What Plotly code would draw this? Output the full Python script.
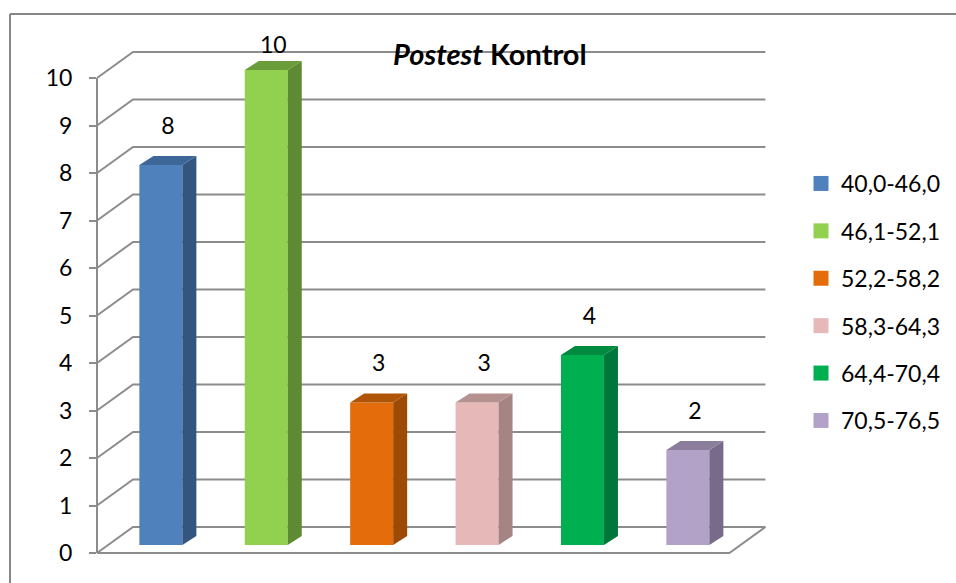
import plotly.graph_objects as go

# ---- data ----
categories = ["40,0-46,0", "46,1-52,1", "52,2-58,2", "58,3-64,3", "64,4-70,4", "70,5-76,5"]
counts = [8, 10, 3, 3, 4, 2]
y_ticks = list(range(0, 11))
title_text = "<b><i>Postest</i> Kontrol</b>"

# ---- colours: front / side / top face of each column ----
front_colors = ["#4F81BD", "#92D050", "#E46C0A", "#E6B9B8", "#00B050", "#B3A2C7"]
side_colors = ["#34557F", "#5E8A33", "#9C4A06", "#A68483", "#00773A", "#776A8A"]
top_colors = ["#3D6699", "#6A9C3A", "#B05508", "#B59190", "#008A40", "#8B7E9D"]
grid_color = "#8C8C8C"
frame_color = "#868686"
font_family = "Lato, 'Open Sans', sans-serif"

# ---- oblique projection settings ----
W, H = 956, 583
CAT_PX = 105.4          # pixels per category step
UNIT_PX = 47.5          # pixels per value unit
X_ORIGIN = 149.7        # pixel x of category 0 on the front plane
Y_ORIGIN = 553          # pixel y of value 0 on the front plane
WALL_DX = 36 / CAT_PX   # depth shift of the back wall (category units)
WALL_DY = 26 / UNIT_PX  # depth shift of the back wall (value units)
BAR_Z = 0.31            # relative depth of the column front faces
BAR_W = 0.408           # column width (category units)
BAR_DX = 14 / CAT_PX    # column depth (category units)
BAR_DY = 9 / UNIT_PX    # column depth (value units)
LABEL_GAP = 28 / UNIT_PX
LABEL_MAX = (Y_ORIGIN - 47) / UNIT_PX

x_range = [-X_ORIGIN / CAT_PX, (W - X_ORIGIN) / CAT_PX]
y_range = [(Y_ORIGIN - H) / UNIT_PX, Y_ORIGIN / UNIT_PX]
n = len(categories)
x_left, x_right = -0.5, n - 0.5

fig = go.Figure()

# ---- walls and floor as shapes below the columns ----
shapes = []
for t in y_ticks:
    path = (f"M {x_left},{t} L {x_left + WALL_DX},{t + WALL_DY} "
            f"L {x_right + WALL_DX},{t + WALL_DY}")
    shapes.append(dict(type="path", path=path, xref="x", yref="y", layer="below",
                       line=dict(color=grid_color, width=2)))
floor = (f"M {x_left},0 L {x_right},0 L {x_right + WALL_DX},{WALL_DY}")
shapes.append(dict(type="path", path=floor, xref="x", yref="y", layer="below",
                   line=dict(color=grid_color, width=2)))
# chart frame
shapes.append(dict(type="line", xref="paper", yref="paper",
                   x0=10 / W, x1=1, y0=(H - 14) / H, y1=(H - 14) / H,
                   line=dict(color=frame_color, width=2)))
shapes.append(dict(type="line", xref="paper", yref="paper",
                   x0=10 / W, x1=10 / W, y0=0, y1=(H - 14) / H,
                   line=dict(color=frame_color, width=2)))

# ---- columns ----
base = BAR_Z * WALL_DY
for i, (cat, v) in enumerate(zip(categories, counts)):
    xc = i + BAR_Z * WALL_DX
    fig.add_trace(go.Bar(
        x=[xc], y=[v], base=[base], width=BAR_W,
        marker=dict(color=front_colors[i], line=dict(width=0)),
        name=cat, legendgroup=cat, showlegend=False,
        hovertemplate=f"{cat}: {v}<extra></extra>",
    ))
    xr = xc + BAR_W / 2
    xl = xc - BAR_W / 2
    top = base + v
    # side face
    fig.add_trace(go.Scatter(
        x=[xr, xr + BAR_DX, xr + BAR_DX, xr, xr],
        y=[base, base + BAR_DY, top + BAR_DY, top, base],
        mode="lines", fill="toself", fillcolor=side_colors[i],
        line=dict(width=0, color=side_colors[i]),
        legendgroup=cat, showlegend=False, hoverinfo="skip",
    ))
    # top face
    fig.add_trace(go.Scatter(
        x=[xl, xr, xr + BAR_DX, xl + BAR_DX, xl],
        y=[top, top, top + BAR_DY, top + BAR_DY, top],
        mode="lines", fill="toself", fillcolor=top_colors[i],
        line=dict(width=0, color=top_colors[i]),
        legendgroup=cat, showlegend=False, hoverinfo="skip",
    ))

# ---- value labels ----
label_x = [i + BAR_Z * WALL_DX + BAR_DX / 2 for i in range(n)]
label_y = [min(base + v + BAR_DY + LABEL_GAP, LABEL_MAX) for v in counts]
fig.add_trace(go.Scatter(
    x=label_x, y=label_y, text=[str(v) for v in counts],
    mode="text", textposition="middle center",
    textfont=dict(size=23, color="#000000", family=font_family),
    showlegend=False, hoverinfo="skip", cliponaxis=False,
))

# ---- legend entries ----
for i, cat in enumerate(categories):
    fig.add_trace(go.Scatter(
        x=[None], y=[None], mode="markers", name=cat, legendgroup=cat,
        marker=dict(symbol="square", size=15, color=front_colors[i]),
    ))

# ---- front value axis ----
fig.add_trace(go.Scatter(
    x=[x_left] * len(y_ticks), y=y_ticks, yaxis="y2", mode="markers",
    marker=dict(opacity=0), showlegend=False, hoverinfo="skip",
))

fig.update_layout(
    width=W, height=H,
    margin=dict(l=0, r=0, t=0, b=0, pad=0, autoexpand=False),
    paper_bgcolor="white", plot_bgcolor="rgba(0,0,0,0)",
    barmode="overlay",
    shapes=shapes,
    font=dict(family=font_family, color="#000000"),
    xaxis=dict(range=x_range, visible=False, fixedrange=True, automargin=False),
    yaxis=dict(range=y_range, visible=False, fixedrange=True, automargin=False),
    yaxis2=dict(
        range=[0, 10], domain=[(H - Y_ORIGIN) / H, (H - Y_ORIGIN + 10 * UNIT_PX) / H],
        anchor="free", position=(X_ORIGIN - 0.5 * CAT_PX) / W,
        showline=True, linecolor=grid_color, linewidth=2,
        ticks="outside", ticklen=7, tickwidth=2, tickcolor=grid_color,
        tickvals=y_ticks, showgrid=False, zeroline=False,
        tickfont=dict(size=23, color="#000000", family=font_family),
        ticklabelstandoff=12, fixedrange=True, automargin=False,
    ),
    legend=dict(
        x=801 / W, y=(H - 162) / H, xanchor="left", yanchor="top",
        font=dict(size=23, color="#000000", family=font_family),
        traceorder="grouped", tracegroupgap=14.5, bgcolor="rgba(0,0,0,0)",
    ),
    annotations=[dict(
        text=title_text, x=490 / W, y=(H - 54) / H, xref="paper", yref="paper",
        showarrow=False, xanchor="center", yanchor="middle",
        font=dict(size=29, color="#000000", family=font_family),
    )],
)

fig.write_html("out.html")
